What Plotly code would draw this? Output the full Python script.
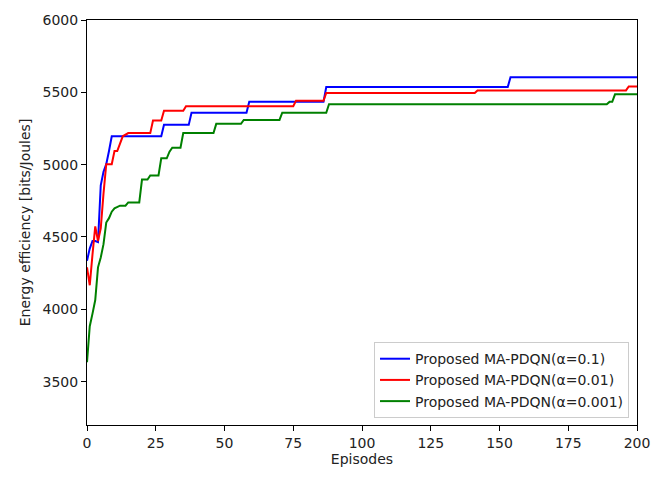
import plotly.graph_objects as go

# Episode breakpoints and energy efficiency values (bits/Joules)
blue_x = [0, 1, 2, 3, 4, 5, 6, 7, 8, 9, 27, 28, 37, 38, 58, 59, 86, 87, 153, 154, 200]
blue_y = [4336, 4420, 4472, 4472, 4465, 4857, 4950, 5003, 5094, 5196, 5196, 5275, 5275, 5359, 5359, 5434, 5434, 5536, 5536, 5604, 5604]

red_x = [0, 1, 2, 3, 4, 5, 6, 7, 9, 10, 11, 12, 13, 15, 23, 24, 27, 28, 35, 36, 75, 76, 86, 87, 141, 142, 196, 197, 200]
red_y = [4290, 4166, 4380, 4573, 4472, 4560, 4800, 5003, 5003, 5094, 5094, 5150, 5196, 5218, 5218, 5305, 5305, 5373, 5373, 5404, 5404, 5441, 5441, 5495, 5495, 5513, 5513, 5540, 5540]

green_x = [0, 1, 2, 3, 4, 5, 6, 7, 8, 9, 10, 11, 12, 14, 15, 19, 20, 22, 23, 26, 27, 29, 30, 31, 34, 35, 46, 47, 56, 57, 70, 71, 87, 88, 189, 190, 191, 192, 200]
green_y = [3634, 3883, 3970, 4064, 4290, 4358, 4450, 4600, 4630, 4675, 4698, 4710, 4716, 4716, 4739, 4739, 4897, 4897, 4925, 4925, 5044, 5044, 5090, 5117, 5117, 5219, 5219, 5282, 5282, 5309, 5309, 5359, 5359, 5418, 5418, 5434, 5434, 5486, 5486]

names = ["Proposed MA-PDQN(α=0.1)", "Proposed MA-PDQN(α=0.01)", "Proposed MA-PDQN(α=0.001)"]
colors = ["#0000ff", "#ff0000", "#008000"]

x_ticks = [0, 25, 50, 75, 100, 125, 150, 175, 200]
y_ticks = [3500, 4000, 4500, 5000, 5500, 6000]

fig = go.Figure()
for xs, ys, nm, c in zip([blue_x, red_x, green_x], [blue_y, red_y, green_y], names, colors):
    fig.add_trace(go.Scatter(x=xs, y=ys, mode="lines", name=nm,
                             line=dict(color=c, width=2)))

axis_common = dict(showline=True, linecolor="black", linewidth=1, mirror=True,
                   ticks="outside", ticklen=5, tickcolor="black", showgrid=False,
                   zeroline=False, tickfont=dict(size=14, color="#222"))

fig.update_layout(
    width=666, height=477,
    margin=dict(l=87, r=29, t=13, b=51),
    paper_bgcolor="white", plot_bgcolor="white",
    font=dict(family="DejaVu Sans", size=14, color="#222"),
    xaxis=dict(range=[0, 200], tickvals=x_ticks,
               title=dict(text="Episodes", standoff=4, font=dict(size=14)), **axis_common),
    yaxis=dict(range=[3200, 6000], tickvals=y_ticks,
               title=dict(text="Energy efficiency [bits/Joules]", standoff=8, font=dict(size=14)), **axis_common),
    legend=dict(x=0.9855, y=0.017, xanchor="right", yanchor="bottom",
                bordercolor="#cccccc", borderwidth=1, bgcolor="rgba(255,255,255,0.8)",
                font=dict(size=14), tracegroupgap=0),
    showlegend=True,
)

fig.write_html("out.html", post_script="document.body.style.margin='0';",
               config={"displayModeBar": False})
